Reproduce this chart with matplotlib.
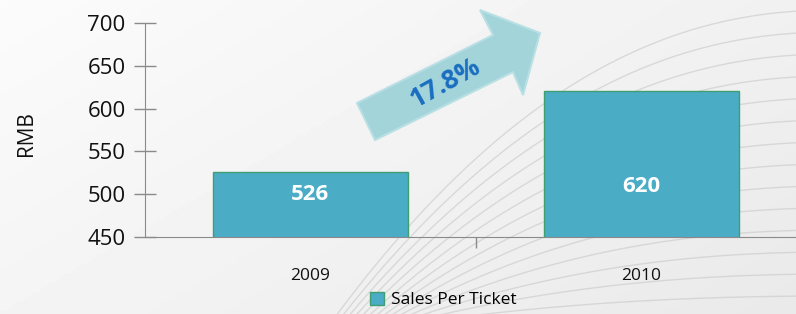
import numpy as np
import matplotlib
matplotlib.use("Agg")
import matplotlib.pyplot as plt
from matplotlib.patches import Polygon

categories = ["2009", "2010"]
values = [526, 620]
series_name = "Sales Per Ticket"
growth_label = "17.8%"
y_ticks = [450, 500, 550, 600, 650, 700]

W, H = 796, 314
fig = plt.figure(figsize=(W / 100, H / 100), dpi=100)
plt.rcParams['font.family'] = ['Open Sans', 'DejaVu Sans']

# background
bg = fig.add_axes([0, 0, 1, 1], zorder=0)
bg.set_xlim(0, W)
bg.set_ylim(H, 0)
bg.axis("off")
gx, gy = np.meshgrid(np.linspace(0, 1, 200), np.linspace(0, 1, 100))
grad = 0.985 - 0.07 * (0.6 * gx + 0.4 * gy)
bg.imshow(grad, cmap="gray", vmin=0, vmax=1, extent=[0, W, H, 0], aspect="auto")
t = np.linspace(0, 1, 200)
for k in range(16):
    x0 = 330 + k * 6
    xs = x0 + (W + 40 - x0) * t
    ye = 10 + k * 22
    ys = H + 10 - (H + 10 - ye) * (1 - (1 - t) ** 2.2)
    bg.plot(xs, ys, color="#c8c8c8", lw=1.0, alpha=0.6)

ax = fig.add_axes([145 / W, (H - 237) / H, (807 - 145) / W, (237 - 23) / H], zorder=2)
ax.patch.set_alpha(0)
x = np.arange(len(categories))
bars = ax.bar(x, values, width=0.59, color="#4bacc6", edgecolor="#3f9f73", linewidth=1.0,
              label=series_name)
ax.set_ylim(450, 700)
ax.set_xlim(-0.5, 1.5)
ax.set_yticks(y_ticks)
ax.set_yticklabels([str(v) for v in y_ticks], fontsize=16, color="#111111")
ax.set_xticks([0.5])
ax.set_xticklabels([""])
ax.tick_params(axis="y", direction="inout", length=16, width=1, color="#8a8a8a", pad=6)
ax.tick_params(axis="x", direction="out", length=8, width=1, color="#8a8a8a")
for s in ["top", "right"]:
    ax.spines[s].set_visible(False)
ax.spines["left"].set_color("#8a8a8a")
ax.spines["bottom"].set_color("#8a8a8a")
ax.spines["left"].set_bounds(450, 700)
for xi, c in zip(x, categories):
    ax.text(xi, -0.18, c, transform=ax.get_xaxis_transform(), ha="center", va="center",
            fontsize=12.5, color="#111111")
label_frac = [0.20, 0.235]  # vertical position of value labels in axes fraction
for b, v, fy in zip(bars, values, label_frac):
    ax.text(b.get_x() + b.get_width() / 2, fy, str(v), ha="center", va="center",
            transform=ax.get_xaxis_transform(),
            fontsize=16, fontweight="bold", color="white")
fig.text(27 / W, 1 - 134 / H, "RMB", rotation=90, ha="center", va="center", fontsize=15, color="#111111")

leg = fig.legend(handles=[bars], labels=[series_name], loc="center", bbox_to_anchor=(443 / W, 1 - 300 / H),
                 frameon=False, fontsize=12.5, handlelength=0.8, handleheight=0.8, handletextpad=0.4)

# growth arrow (decoration in pixel coords)
ov = fig.add_axes([0, 0, 1, 1], zorder=3)
ov.set_xlim(0, W)
ov.set_ylim(H, 0)
ov.axis("off")
pts = [(375, 140), (357, 103), (493, 35), (480, 10), (540, 33), (523, 95), (513, 72)]
ov.add_patch(Polygon(pts, closed=True, facecolor="#a2d4da", edgecolor="#b8e0e4", lw=1.5))
ov.text(445, 83, growth_label, rotation=29, ha="center", va="center", fontsize=19,
        fontweight="bold", color="#1a6ec0")

fig.savefig("out.png", dpi=100)
